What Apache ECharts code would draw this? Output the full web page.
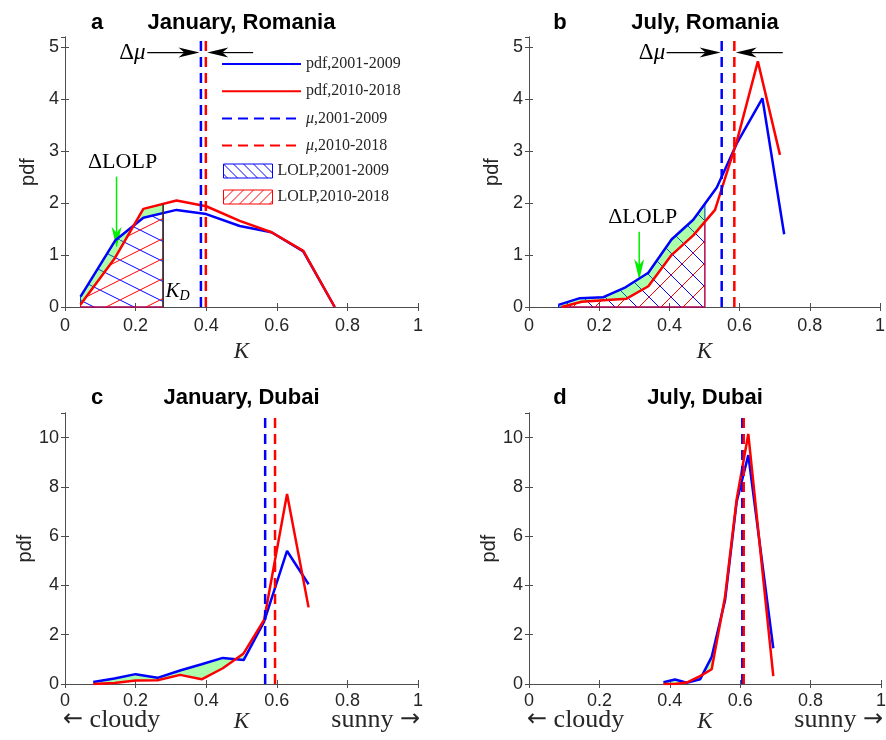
<!DOCTYPE html>
<html>
<head>
<meta charset="utf-8">
<script src="https://cdn.jsdelivr.net/npm/echarts@6/dist/echarts.min.js"></script>
<style>
  html, body { margin: 0; padding: 0; background: #fff; }
  #main { width: 886px; height: 740px; }
</style>
</head>
<body>
<div id="main"></div>
<script>
// ---- data ----
const xTicks = [0, 0.2, 0.4, 0.6, 0.8, 1];

// a: January, Romania (same K bins for both periods)
const kA = [0.044, 0.142, 0.222, 0.316, 0.40, 0.495, 0.585, 0.675, 0.764];
const pdfA1 = [0.20, 1.28, 1.72, 1.87, 1.79, 1.56, 1.44, 1.07, 0.00];
const pdfA2 = [0.05, 0.95, 1.89, 2.05, 1.94, 1.66, 1.44, 1.08, 0.00];
const muA = [0.385, 0.399];
const kdA = 0.278;
const kdPdfA = [1.81, 1.98];

// b: July, Romania
const kB1 = [0.084, 0.145, 0.212, 0.275, 0.34, 0.406, 0.468, 0.535, 0.592, 0.665, 0.727];
const pdfB1 = [0.04, 0.17, 0.19, 0.38, 0.66, 1.30, 1.68, 2.30, 3.15, 4.02, 1.40];
const kB2 = [0.093, 0.15, 0.212, 0.278, 0.34, 0.406, 0.468, 0.53, 0.592, 0.652, 0.715];
const pdfB2 = [0.00, 0.10, 0.13, 0.16, 0.40, 1.00, 1.38, 1.87, 3.19, 4.73, 2.93];
const muB = [0.549, 0.585];
const kdB = 0.501;
const kdPdfB = [1.98, 1.63];

// c: January, Dubai
const kC = [0.08, 0.14, 0.20, 0.262, 0.326, 0.387, 0.447, 0.506, 0.564, 0.629, 0.69];
const pdfC1 = [0.08, 0.22, 0.40, 0.25, 0.55, 0.80, 1.06, 0.97, 2.53, 5.40, 4.05];
const pdfC2 = [0.00, 0.04, 0.14, 0.15, 0.37, 0.19, 0.64, 1.24, 2.60, 7.71, 3.11];
const muC = [0.567, 0.595];
const fillToC = 0.506;

// d: July, Dubai
const kD = [0.382, 0.415, 0.448, 0.486, 0.519, 0.557, 0.59, 0.623, 0.694];
const pdfD1 = [0.07, 0.18, 0.05, 0.19, 1.10, 3.40, 7.40, 9.29, 1.45];
const pdfD2 = [0.00, 0.00, 0.06, 0.32, 0.60, 3.55, 7.50, 10.15, 0.32];
const muD = [0.606, 0.610];
const fillToD = 0.519;

// annotation arrows [fromK, fromPdf, toK, toPdf]
const dmuArrowsA = [[0.233, 4.9, 0.381, 4.9], [0.533, 4.9, 0.403, 4.9]];
const lolpArrowA = [[0.146, 2.51, 0.146, 1.14]];
const dmuArrowsB = [[0.392, 4.9, 0.546, 4.9], [0.723, 4.9, 0.589, 4.9]];
const lolpArrowB = [[0.314, 1.45, 0.314, 0.52]];

// ---- styling ----
const BLUE = '#0000ff', RED = '#ff0000', GREEN = '#00ee00';
const INK = '#262626';
const SANS = '"Liberation Sans", Arial, Helvetica, sans-serif';
const NARROW = '"Liberation Sans Narrow", "Liberation Sans", Arial, sans-serif';
const SERIF = '"Liberation Serif", "Times New Roman", "DejaVu Serif", serif';

const zip = (xs, ys) => xs.map((x, i) => [x, ys[i]]);

function hatch(color, w, h, back) {
  const c = document.createElement('canvas');
  c.width = w; c.height = h;
  const g = c.getContext('2d');
  g.strokeStyle = color;
  g.lineWidth = 1;
  g.beginPath();
  for (const s of [-w, 0, w]) {
    if (back) { g.moveTo(s, 0); g.lineTo(s + w, h); }
    else { g.moveTo(s, h); g.lineTo(s + w, 0); }
  }
  g.stroke();
  return { image: c, repeat: 'repeat' };
}

// area under a curve up to KD
function underCurve(pts, kd, yKd) {
  const p = pts.filter(q => q[0] < kd);
  return [[p[0][0], 0]].concat(p, [[kd, yKd], [kd, 0]]);
}
// region between the two curves up to lim
function between(b, r, lim, vals) {
  const pb = b.filter(q => q[0] <= lim + 1e-9);
  const pr = r.filter(q => q[0] <= lim + 1e-9);
  if (vals) { pb.push([lim, vals[0]]); pr.push([lim, vals[1]]); }
  return pb.concat(pr.reverse());
}

function polySeries(name, ax, pts, style) {
  return {
    type: 'custom', name: name, xAxisIndex: ax, yAxisIndex: ax, silent: true,
    data: pts,
    itemStyle: { color: style.stroke || '#0f0' },
    renderItem: (params, api) => params.dataIndex ? null : {
      type: 'polygon',
      shape: { points: pts.map(q => api.coord(q)) },
      style: style
    }
  };
}

function lineSeries(name, ax, data, color, type, width) {
  return {
    type: 'line', name: name, xAxisIndex: ax, yAxisIndex: ax, data: data,
    symbol: 'none', showSymbol: false, silent: true,
    itemStyle: { color: color },
    lineStyle: { color: color, width: width || 2.5, type: type || 'solid' }
  };
}

function arrowSeries(ax, rows, color, lw) {
  return {
    type: 'custom', xAxisIndex: ax, yAxisIndex: ax, silent: true, data: rows,
    encode: { x: [0, 2], y: [1, 3] },
    renderItem: (params, api) => {
      const p1 = api.coord([api.value(0), api.value(1)]);
      const p2 = api.coord([api.value(2), api.value(3)]);
      const dx = p2[0] - p1[0], dy = p2[1] - p1[1];
      const len = Math.hypot(dx, dy), ux = dx / len, uy = dy / len;
      const nx = -uy, ny = ux, L = 21, W = 5;
      const bx = p2[0] - ux * L, by = p2[1] - uy * L;
      const mx = p2[0] - ux * L * 0.72, my = p2[1] - uy * L * 0.72;
      return {
        type: 'group', children: [
          { type: 'line', shape: { x1: p1[0], y1: p1[1], x2: mx, y2: my },
            style: { stroke: color, lineWidth: lw } },
          { type: 'polygon',
            shape: { points: [p2, [bx + nx * W, by + ny * W], [mx, my], [bx - nx * W, by - ny * W]] },
            style: { fill: color } }
        ]
      };
    }
  };
}

function textSeries(ax, items) {
  return {
    type: 'custom', xAxisIndex: ax, yAxisIndex: ax, silent: true,
    data: items.map(t => t.at),
    renderItem: (params, api) => {
      const t = items[params.dataIndex];
      const p = api.coord(t.at);
      return {
        type: 'text', x: p[0], y: p[1],
        style: {
          text: t.text, font: t.font, fill: '#000',
          align: t.align, textAlign: t.align,
          verticalAlign: 'middle', textVerticalAlign: 'middle',
          rich: t.rich
        }
      };
    }
  };
}

const grids = [
  { left: 65, top: 37, width: 353, height: 270 },
  { left: 529, top: 37, width: 351, height: 270 },
  { left: 65, top: 413, width: 353, height: 271 },
  { left: 529, top: 413, width: 352, height: 271 }
].map(g => Object.assign({ outerBoundsMode: 'none', containLabel: false }, g));

const yMax = [5.2, 5.2, 11, 11];
const yInt = [1, 1, 2, 2];

const xAxis = [], yAxis = [];
grids.forEach((g, i) => {
  const base = {
    type: 'value', gridIndex: i, min: 0, max: 1, interval: 0.2,
    splitLine: { show: false },
    axisLine: { show: true, lineStyle: { color: '#4d4d4d', width: 1 } },
    axisTick: { show: true, inside: true, length: 4, lineStyle: { color: '#4d4d4d' } }
  };
  xAxis.push(Object.assign({}, base, {
    position: 'bottom',
    name: 'K', nameLocation: 'middle', nameGap: i < 2 ? 33 : 26,
    nameTextStyle: { fontFamily: SERIF, fontStyle: 'italic', fontSize: 23, color: INK },
    axisLabel: { fontFamily: NARROW, fontSize: 18, color: INK, margin: i < 2 ? 10 : 8 }
  }));
  xAxis.push(Object.assign({}, base, { position: 'top', axisLabel: { show: false } }));
  const ybase = Object.assign({}, base, { min: 0, max: yMax[i], interval: yInt[i] });
  yAxis.push(Object.assign({}, ybase, {
    position: 'left',
    name: 'pdf', nameLocation: 'middle', nameGap: 27, nameRotate: 90,
    nameTextStyle: { fontFamily: SANS, fontSize: 20, color: INK },
    axisLabel: { fontFamily: NARROW, fontSize: 18, color: INK, margin: 6, showMaxLabel: false }
  }));
  yAxis.push(Object.assign({}, ybase, { position: 'right', axisLabel: { show: false } }));
});

const panels = [
  { blue: zip(kA, pdfA1), red: zip(kA, pdfA2), mu: muA, kd: kdA, kdPdf: kdPdfA, fillTo: kdA, hw: 40, hh: 20 },
  { blue: zip(kB1, pdfB1), red: zip(kB2, pdfB2), mu: muB, kd: kdB, kdPdf: kdPdfB, fillTo: kdB, hw: 22, hh: 22 },
  { blue: zip(kC, pdfC1), red: zip(kC, pdfC2), mu: muC, fillTo: fillToC },
  { blue: zip(kD, pdfD1), red: zip(kD, pdfD2), mu: muD, fillTo: fillToD }
];

const series = [];
panels.forEach((p, i) => {
  const ax = 2 * i;
  if (p.kd !== undefined) {
    series.push(polySeries('LOLP,2001-2009', ax, underCurve(p.blue, p.kd, p.kdPdf[0]),
      { fill: hatch(BLUE, p.hw, p.hh, true), stroke: BLUE, lineWidth: 1 }));
    series.push(polySeries('LOLP,2010-2018', ax, underCurve(p.red, p.kd, p.kdPdf[1]),
      { fill: hatch(RED, p.hw, p.hh, false), stroke: RED, lineWidth: 1 }));
  }
  series.push(lineSeries('pdf,2001-2009', ax, p.blue, BLUE));
  series.push(lineSeries('pdf,2010-2018', ax, p.red, RED));
  series.push(polySeries('fill', ax, between(p.blue, p.red, p.fillTo, p.kdPdf),
    { fill: 'rgba(0,255,0,0.33)', stroke: 'rgba(0,200,0,0.25)', lineWidth: 1 }));
  series.push(lineSeries('μ,2001-2009', ax, [[p.mu[0], 0], [p.mu[0], yMax[i]]], BLUE, [10, 6], 2.5));
  series.push(lineSeries('μ,2010-2018', ax, [[p.mu[1], 0], [p.mu[1], yMax[i]]], RED, [10, 6], 2.5));
});

// panel a annotations
series.push(lineSeries('KD', 0, [[kdA, 0], [kdA, kdPdfA[1]]], '#333333', 'solid', 1.5));
series.push(arrowSeries(0, dmuArrowsA, '#000', 1.2));
series.push(arrowSeries(0, lolpArrowA, GREEN, 1.5));
const dmuRich = {
  d: { fontFamily: SERIF, fontSize: 23, fill: '#000', color: '#000' },
  m: { fontFamily: SERIF, fontSize: 23, fontStyle: 'italic', fill: '#000', color: '#000' }
};
series.push(textSeries(0, [
  { at: [0.228, 4.9], text: '{d|Δ}{m|μ}', rich: dmuRich, align: 'right', font: '23px ' + SERIF },
  { at: [0.163, 2.78], text: 'ΔLOLP', align: 'center', font: '22px ' + SERIF },
  { at: [0.285, 0.30], text: '{k|K}{s|D}', align: 'left', font: '20px ' + SERIF,
    rich: {
      k: { fontFamily: SERIF, fontSize: 21, fontStyle: 'italic', fill: '#000', color: '#000' },
      s: { fontFamily: SERIF, fontSize: 14, fontStyle: 'italic', fill: '#000', color: '#000', padding: [10, 0, 0, 0] }
    } }
]));
// panel b annotations
series.push(arrowSeries(2, dmuArrowsB, '#000', 1.2));
series.push(arrowSeries(2, lolpArrowB, GREEN, 1.5));
series.push(textSeries(2, [
  { at: [0.388, 4.9], text: '{d|Δ}{m|μ}', rich: dmuRich, align: 'right', font: '23px ' + SERIF },
  { at: [0.324, 1.72], text: 'ΔLOLP', align: 'center', font: '22px ' + SERIF }
]));

const legendText = {
  fontFamily: SERIF, fontSize: 16, color: INK,
  rich: { i: { fontFamily: SERIF, fontSize: 16, fontStyle: 'italic', color: INK } }
};

const titles = [
  ['a', 'January, Romania', 97, 241.5, 23],
  ['b', 'July, Romania', 560, 705, 23],
  ['c', 'January, Dubai', 97, 241.5, 398],
  ['d', 'July, Dubai', 560, 705, 398]
];
const graphic = [];
titles.forEach(t => {
  graphic.push({ type: 'text', x: t[2], y: t[4], silent: true,
    style: { text: t[0], font: 'bold 22px ' + SANS, fill: '#000', align: 'center', textAlign: 'center', verticalAlign: 'middle', textVerticalAlign: 'middle' } });
  graphic.push({ type: 'text', x: t[3], y: t[4], silent: true,
    style: { text: t[1], font: 'bold 22px ' + SANS, fill: '#000', align: 'center', textAlign: 'center', verticalAlign: 'middle', textVerticalAlign: 'middle' } });
});
const sideRich = {
  a: { fontFamily: '"DejaVu Sans", sans-serif', fontSize: 24, fill: INK, color: INK },
  w: { fontFamily: SERIF, fontSize: 26, fill: INK, color: INK }
};
[[63, 420], [527, 883]].forEach(e => {
  graphic.push({ type: 'text', x: e[0], y: 720, silent: true,
    style: { text: '{a|←}{w| cloudy}', rich: sideRich, font: '26px ' + SERIF, fill: INK, align: 'left', textAlign: 'left', verticalAlign: 'middle', textVerticalAlign: 'middle' } });
  graphic.push({ type: 'text', x: e[1], y: 720, silent: true,
    style: { text: '{w|sunny }{a|→}', rich: sideRich, font: '26px ' + SERIF, fill: INK, align: 'right', textAlign: 'right', verticalAlign: 'middle', textVerticalAlign: 'middle' } });
});

const option = {
  animation: false,
  backgroundColor: '#fff',
  grid: grids,
  xAxis: xAxis,
  yAxis: yAxis,
  legend: [
    {
      data: ['pdf,2001-2009', 'pdf,2010-2018', 'μ,2001-2009', 'μ,2010-2018'],
      orient: 'vertical', left: 221, top: 56, padding: 0,
      itemWidth: 79, itemHeight: 14, itemGap: 11.2,
      selectedMode: false,
      itemStyle: { opacity: 0 },
      textStyle: legendText,
      formatter: n => n.replace('μ', '{i|μ}')
    },
    {
      data: [
        { name: 'LOLP,2001-2009', icon: 'rect',
          itemStyle: { color: hatch(BLUE, 10, 10, true), borderColor: BLUE, borderWidth: 1 } },
        { name: 'LOLP,2010-2018', icon: 'rect',
          itemStyle: { color: hatch(RED, 10, 10, false), borderColor: RED, borderWidth: 1 } }
      ],
      orient: 'vertical', left: 223, top: 163, padding: 0,
      itemWidth: 49, itemHeight: 14, itemGap: 10,
      selectedMode: false,
      textStyle: legendText
    }
  ],
  graphic: graphic,
  series: series
};

const chart = echarts.init(document.getElementById('main'));
chart.setOption(option);
</script>
</body>
</html>
